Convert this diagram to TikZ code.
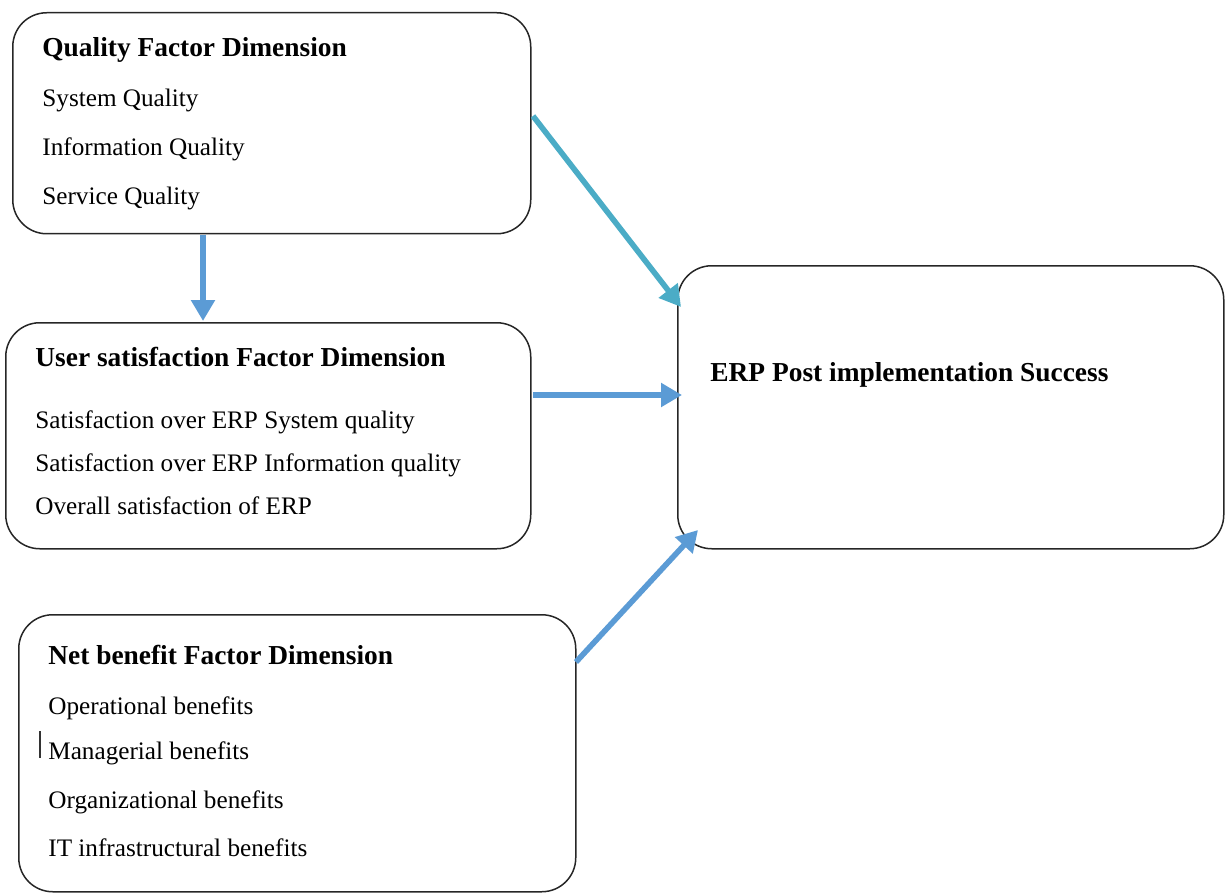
\documentclass[tikz,border=0pt]{standalone}
\usepackage{fontspec}
\setmainfont{Liberation Serif}
\usetikzlibrary{arrows.meta}
\definecolor{linkteal}{HTML}{4BACC6}
\definecolor{linkblue}{HTML}{5B9BD5}
\begin{document}
\begin{tikzpicture}[x=0.5pt,y=-0.5pt,
  box/.style={draw=black!85, line width=0.75pt, rounded corners=17pt, anchor=north west, inner sep=0pt},
  title/.style={anchor=base west, inner sep=0pt, font=\fontsize{13.7}{16}\selectfont\bfseries},
  item/.style={anchor=base west, inner sep=0pt, font=\fontsize{12.6}{15}\selectfont},
  link/.style={line width=2.8pt, -{Triangle[length=10.5pt,width=11.5pt]}}]
\useasboundingbox (0,0) rectangle (1225,893);

% dimension boxes
\node[box, minimum width=259pt, minimum height=110.5pt] (quality) at (12,12) {};
\node[box, minimum width=262.5pt, minimum height=113pt] (user) at (5,322) {};
\node[box, minimum width=278.5pt, minimum height=138.5pt] (net) at (18,614) {};
\node[box, minimum width=273pt, minimum height=141.5pt] (erp) at (677,265) {};

% quality factor texts
\node[title] (qt) at (42,57) {Quality Factor Dimension};
\node[item] (q1) at (42,107) {System Quality};
\node[item] (q2) at (42,156) {Information Quality};
\node[item] (q3) at (42,205) {Service Quality};

% user satisfaction texts
\node[title] (ut) at (35,366) {User satisfaction Factor Dimension};
\node[item] (u1) at (35,428) {Satisfaction over ERP System quality};
\node[item] (u2) at (35,471) {Satisfaction over ERP Information quality};
\node[item] (u3) at (35,514) {Overall satisfaction of ERP};

% net benefit texts
\node[title] (nt) at (48,664) {Net benefit Factor Dimension};
\node[item] (n1) at (48,714) {Operational benefits};
\node[item] (n2) at (48,759) {Managerial benefits};
\node[item] (n3) at (48,808) {Organizational benefits};
\node[item] (n4) at (48,856) {IT infrastructural benefits};
\coordinate (cursorTop) at (40,731);
\coordinate (cursorBot) at (40,758);
\draw[line width=0.6pt, black!80] (cursorTop) -- (cursorBot);

% outcome text
\node[title] (et) at (710,381) {ERP Post implementation Success};

% connector end points
\coordinate (a1s) at (533,116);
\coordinate (a1e) at (681,307);
\coordinate (a2s) at (203,235);
\coordinate (a2e) at (203,321);
\coordinate (a3s) at (533,395);
\coordinate (a3e) at (682,395);
\coordinate (a4s) at (576,662);
\coordinate (a4e) at (698,530);

\draw[link, linkteal] (a1s) -- (a1e);
\draw[link, linkblue] (a2s) -- (a2e);
\draw[link, linkblue] (a3s) -- (a3e);
\draw[link, linkblue] (a4s) -- (a4e);
\end{tikzpicture}
\end{document}
